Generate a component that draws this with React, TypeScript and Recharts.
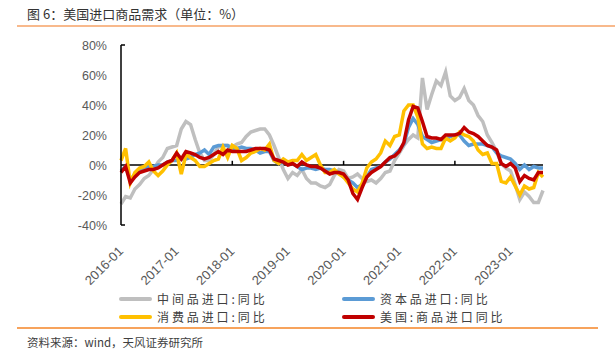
import React from 'react';
import { LineChart, Line, XAxis, YAxis, ReferenceLine } from 'recharts';

// ---- categories (monthly, 2016-01 .. 2023-08) ----
const years = [2016, 2017, 2018, 2019, 2020, 2021, 2022, 2023];
const lastMonth2023 = 8;
const categories: string[] = [];
years.forEach((y) => {
  const n = y === 2023 ? lastMonth2023 : 12;
  for (let m = 1; m <= n; m++) categories.push(`${y}-${String(m).padStart(2, '0')}`);
});
const yearTicks = ['2016-01', '2017-01', '2018-01', '2019-01', '2020-01', '2021-01', '2022-01', '2023-01'];
const axisMarkTicks = ['2018-01', '2020-01', '2022-01'];
const yTicks = [-40, -20, 0, 20, 40, 60, 80];

// ---- series (%, YoY) ----
const intermediate = [
  -26, -21, -22, -16, -13, -9, -7, -3, 2, 5, 11, 12,
  13, 24, 29, 27, 17, 8, 3, 3, 7, 12, 13, 13,
  12, 14, 15, 19, 22, 23, 24, 24, 20, 13, 5, -3,
  -9, -5, -7, -3, -9, -12, -12, -14, -15, -13, -7, -3,
  -4, -9, -8, -6, -9, -11, -10, -12, -9, -5, -4, 3,
  8, 13, 17, 20, 18, 58, 37, 47, 56, 53, 62, 46,
  43, 45, 51, 43, 40, 33, 29, 20, 15, 9, 1, -2,
  -4, -13, -23, -18, -21, -25, -25, -17,
];
const capital = [
  -4, -1, -10, -6, -3, -2, -1, -1, 0, 0, 2, 3,
  3, 4, 4, 5, 7, 8, 10, 7, 12, 13, 13, 13,
  10, 11, 12, 11, 11, 10, 8, 9, 9, 3, 1, 2,
  1, 1, -1, -3, -2, -2, -3, -2, -3, -3, -4, -5,
  -8, -10, -12, -15, -13, -8, -3, -2, -1, 2, 4, 7,
  10, 14, 25, 31, 27, 19, 17, 15, 16, 17, 17, 19,
  20, 20, 16, 13, 14, 14, 14, 13, 12, 8, 6, 5,
  4, 1, -3, 0, -3, -1, -2, -2,
];
const consumer = [
  3, 11, -12, -5, -2, -1, 2, -4, -7, -4, 0, 3,
  8, -6, 7, 5, 3, -1, -1, 1, 3, 4, 12, 5,
  13, 11, 3, 5, 8, 9, 11, 10, 14, 3, 1, 4,
  2, 3, 3, 7, 3, 5, 7, 0, -5, -5, -3, -6,
  -8, -12, -16, -18, -12, -2, 2, 4, 8, 16, 13, 19,
  20, 36, 40, 40, 32, 14, 11, 12, 11, 11, 18, 16,
  18, 22, 20, 19, 16, 10, 7, 8, 1, 1, -11, -12,
  -8, -14, -20, -14, -16, -15, -5, -8,
];
const total = [
  -5, -1, -12, -8, -5, -4, -3, -3, -2, 0, 2, 3,
  8, 4, 9, 8, 7, 5, 4, 5, 7, 9, 7, 10,
  9, 9, 9, 9, 10, 11, 11, 11, 10, 4, 3, 2,
  0, 1, -1, 2, 0, -1, -1, -2, -4, -6, -5, -5,
  -6, -10, -19, -23, -15, -8, -5, -3, -1, 2, 5, 6,
  9, 15, 30, 39, 38, 29, 19, 18, 18, 17, 20, 20,
  20, 21, 25, 22, 21, 19, 16, 13, 12, 10, 1, -1,
  1, -2, -11, -7, -9, -10, -5, -5,
];

const seriesNames = ['中间品进口:同比', '资本品进口:同比', '消费品进口:同比', '美国:商品进口同比'];
const seriesKeys = ['intermediate', 'capital', 'consumer', 'total'];
const seriesColors = ['#BFBFBF', '#5B9BD5', '#FFC000', '#C00000'];

const data = categories.map((c, i) => ({
  month: c,
  intermediate: intermediate[i],
  capital: capital[i],
  consumer: consumer[i],
  total: total[i],
}));

const labelFont = '"Liberation Sans", Arial, sans-serif';
const cjkFont = '"Noto Sans CJK SC", "Noto Sans", sans-serif';

const YTick = (props: any) => {
  const { x, y, payload } = props;
  const v = payload.value;
  return (
    <g>
      <text x={x} y={y} dy={4.5} textAnchor="end" fill="#595959" fontSize={12.5} fontFamily={labelFont}>
        {`${v}%`}
      </text>
      {(v === 80 || v === -40) && (
        <line x1={x + 14} x2={x + 18} y1={y} y2={y} stroke="#000" strokeWidth={1.5} />
      )}
    </g>
  );
};

const XTick = (props: any) => {
  const { x, y, payload } = props;
  const ax = x + 3;
  const ay = y + 27;
  return (
    <text
      x={ax}
      y={ay}
      textAnchor="end"
      fill="#595959"
      fontSize={13}
      fontFamily={labelFont}
      transform={`rotate(-45, ${ax}, ${ay})`}
    >
      {payload.value}
    </text>
  );
};

export default function App() {
  const legendPos = [
    { left: 119, top: 290 },
    { left: 342, top: 290 },
    { left: 119, top: 308 },
    { left: 342, top: 308 },
  ];
  return (
    <div style={{ position: 'absolute', left: 0, top: 0, width: 615, height: 358, background: '#fff', overflow: 'hidden' }}>
      <div
        style={{
          position: 'absolute',
          left: 27,
          top: 5,
          fontFamily: cjkFont,
          fontSize: 13,
          color: '#333',
          lineHeight: '18px',
          whiteSpace: 'nowrap',
        }}
      >
        图 6：美国进口商品需求（单位：%）
      </div>
      <div style={{ position: 'absolute', left: 17, top: 25, width: 598, height: 2, background: '#F8B98C' }} />

      <div style={{ position: 'absolute', left: 0, top: 0 }}>
        <LineChart width={615} height={300} data={data} margin={{ top: 45, right: 72, left: 0, bottom: 0 }}>
          <XAxis
            dataKey="month"
            ticks={yearTicks}
            interval={0}
            axisLine={false}
            tickLine={false}
            tickSize={0}
            tickMargin={0}
            height={75}
            tick={<XTick />}
          />
          <YAxis
            width={121}
            domain={[-40, 80]}
            ticks={yTicks}
            interval={0}
            axisLine={{ stroke: '#000', strokeWidth: 1.5 }}
            tickLine={false}
            tickSize={0}
            tickMargin={14}
            tick={<YTick />}
          />
          <ReferenceLine y={0} stroke="#000" strokeWidth={1.5} />
          {axisMarkTicks.map((m) => (
            <ReferenceLine
              key={m}
              segment={[
                { x: m, y: 0 },
                { x: m, y: 2.8 },
              ]}
              stroke="#000"
              strokeWidth={1.5}
            />
          ))}
          {seriesKeys.map((k, i) => (
            <Line
              key={k}
              type="linear"
              dataKey={k}
              name={seriesNames[i]}
              stroke={seriesColors[i]}
              strokeWidth={3.5}
              dot={false}
              activeDot={false}
              isAnimationActive={false}
            />
          ))}
        </LineChart>
      </div>

      {seriesNames.map((n, i) => (
        <div
          key={n}
          style={{
            position: 'absolute',
            left: legendPos[i].left,
            top: legendPos[i].top,
            height: 17,
            display: 'flex',
            alignItems: 'center',
            whiteSpace: 'nowrap',
          }}
        >
          <div style={{ width: 33, height: 4, background: seriesColors[i], borderRadius: 2 }} />
          <span
            style={{
              marginLeft: 5,
              fontFamily: cjkFont,
              fontSize: 12,
              letterSpacing: 2.9,
              color: '#404040',
              lineHeight: '17px',
            }}
          >
            {n}
          </span>
        </div>
      ))}

      <div style={{ position: 'absolute', left: 17, top: 327, width: 581, height: 2, background: '#F7A35C' }} />
      <div
        style={{
          position: 'absolute',
          left: 27,
          top: 334,
          fontFamily: cjkFont,
          fontSize: 11.5,
          color: '#404040',
          lineHeight: '16px',
          whiteSpace: 'nowrap',
        }}
      >
        资料来源：wind，天风证券研究所
      </div>
    </div>
  );
}
